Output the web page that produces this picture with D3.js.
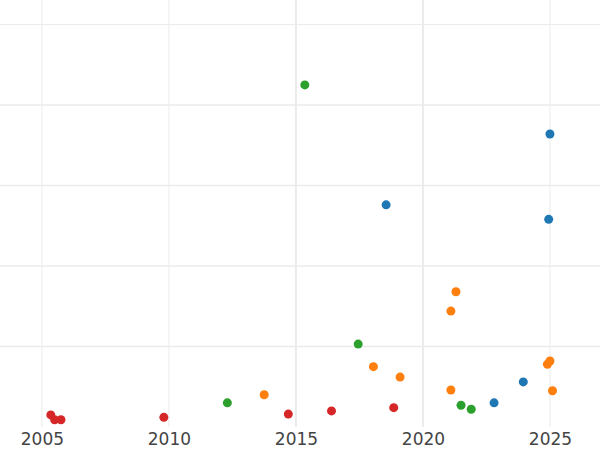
<!DOCTYPE html>
<html><head><meta charset="utf-8">
<script src="https://cdn.jsdelivr.net/npm/d3@7"></script>
<style>body{margin:0;background:#fff}</style>
</head><body>
<script>
var groups = ["blue", "orange", "green", "red"];
var colors = ["#1f77b4", "#ff7f0e", "#2ca02c", "#d62728"];
var blueX = [2025.0, 2018.55, 2024.95, 2023.95, 2022.8];
var blueY = [3.64, 2.76, 2.58, 0.56, 0.30];
var orangeX = [2021.3, 2021.1, 2018.05, 2019.1, 2013.75, 2021.1, 2024.9, 2025.0, 2025.1];
var orangeY = [1.68, 1.44, 0.75, 0.62, 0.40, 0.46, 0.78, 0.82, 0.45];
var greenX = [2015.35, 2017.45, 2012.3, 2021.5, 2021.9];
var greenY = [4.25, 1.03, 0.30, 0.27, 0.22];
var redX = [2005.35, 2005.5, 2005.75, 2009.8, 2014.7, 2016.4, 2018.85];
var redY = [0.15, 0.09, 0.09, 0.12, 0.16, 0.20, 0.24];
var xTicks = [2005, 2010, 2015, 2020, 2025];
var yGrid = [1, 2, 3, 4, 5];

var W = 600, H = 450, bottom = 427;
var x = d3.scaleLinear().domain([2003.35, 2026.97]).range([0, W]);
var y = d3.scaleLinear().domain([0, 1]).range([bottom, bottom - 80.5]);

var svg = d3.select("body").append("svg").attr("width", W).attr("height", H);

svg.selectAll(".hg").data(yGrid).enter().append("line")
  .attr("x1", 0).attr("x2", W)
  .attr("y1", function(d) { return y(d); }).attr("y2", function(d) { return y(d); })
  .attr("stroke", "#ebebeb").attr("stroke-width", function(d) { return d == 5 ? 1 : 1.6; });

svg.selectAll(".vg").data(xTicks).enter().append("line")
  .attr("x1", function(d) { return x(d); }).attr("x2", function(d) { return x(d); })
  .attr("y1", 0).attr("y2", bottom)
  .attr("stroke", "#ebebeb").attr("stroke-width", function(d) { return (d == 2015 || d == 2020) ? 2 : 1; });

var axis = svg.append("g").attr("transform", "translate(0," + bottom + ")")
  .call(d3.axisBottom(x).tickValues(xTicks).tickFormat(d3.format("d")).tickSize(0).tickPadding(6));
axis.select(".domain").remove();
axis.selectAll("text").attr("font-family", "DejaVu Sans").attr("font-size", 17).attr("fill", "#444");

var series = [[blueX, blueY], [orangeX, orangeY], [greenX, greenY], [redX, redY]];
series.forEach(function(s, i) {
  svg.append("g").selectAll("circle").data(s[0]).enter().append("circle")
    .attr("cx", function(d) { return x(d); })
    .attr("cy", function(d, j) { return y(s[1][j]); })
    .attr("r", 4.5).attr("fill", colors[i]);
});
</script>
</body></html>
